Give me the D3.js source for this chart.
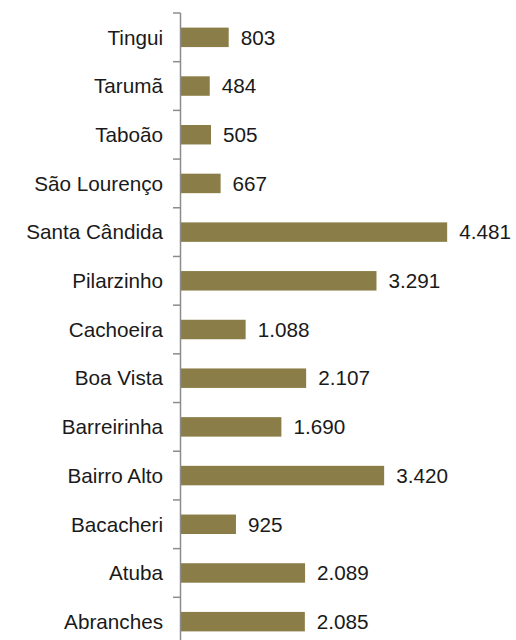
<!DOCTYPE html>
<html>
<head>
<meta charset="utf-8">
<script src="https://cdn.jsdelivr.net/npm/d3@7"></script>
<style>
  html, body { margin: 0; padding: 0; background: #ffffff; }
  svg { display: block; }
  text { font-family: "Liberation Sans", Arial, sans-serif; fill: #1a1a1a; }
</style>
</head>
<body>
<svg id="chart" width="516" height="640"></svg>
<script>
// Bairros, top to bottom
const bairros = ["Tingui", "Tarumã", "Taboão", "São Lourenço", "Santa Cândida", "Pilarzinho",
  "Cachoeira", "Boa Vista", "Barreirinha", "Bairro Alto", "Bacacheri", "Atuba", "Abranches"];
const valores = [803, 484, 505, 667, 4481, 3291, 1088, 2107, 1690, 3420, 925, 2089, 2085];

const svg = d3.select("#chart");
const ptBR = d3.formatLocale({ decimal: ",", thousands: ".", grouping: [3], currency: ["R$", ""] });
const fmt = ptBR.format(",d");

const x = d3.scaleLinear().domain([0, 5000]).range([181, 478]);
const y = d3.scaleBand().domain(bairros).range([13, 646]).padding(0);
const bw = y.bandwidth();
const barH = bw * 0.4;

const data = bairros.map((b, i) => ({ b, v: valores[i] }));

// bars
svg.append("g").selectAll("rect").data(data).join("rect")
  .attr("x", x(0))
  .attr("y", d => y(d.b) + (bw - barH) / 2)
  .attr("width", d => x(d.v) - x(0))
  .attr("height", barH)
  .attr("fill", "#8a7d47");

// category axis
const ax = svg.append("g");
ax.append("line")
  .attr("x1", 180.5).attr("x2", 180.5)
  .attr("y1", y.range()[0]).attr("y2", y.range()[1])
  .attr("stroke", "#8c8c8c").attr("stroke-width", 1.5);
const tickYs = bairros.map(b => y(b)).concat([y.range()[1]]);
ax.selectAll("line.tick").data(tickYs).join("line")
  .attr("class", "tick")
  .attr("x1", 173).attr("x2", 180.5)
  .attr("y1", d => d).attr("y2", d => d)
  .attr("stroke", "#8c8c8c").attr("stroke-width", 1.5);

ax.selectAll("text").data(bairros).join("text")
  .attr("x", 163)
  .attr("y", d => y(d) + bw / 2)
  .attr("dy", "0.35em")
  .attr("text-anchor", "end")
  .attr("font-size", "20.7px")
  .text(d => d);

// value labels
svg.append("g").selectAll("text").data(data).join("text")
  .attr("x", d => x(d.v) + 12)
  .attr("y", d => y(d.b) + bw / 2)
  .attr("dy", "0.35em")
  .attr("font-size", "20.7px")
  .text(d => fmt(d.v));
</script>
</body>
</html>
